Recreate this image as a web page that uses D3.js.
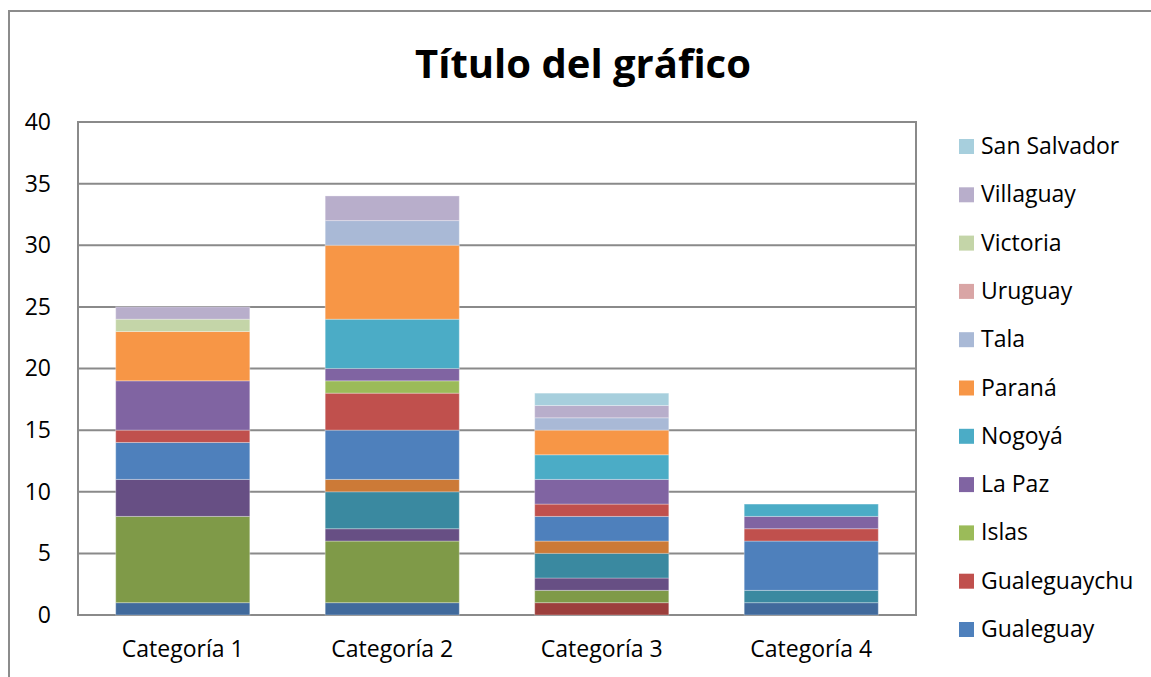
<!DOCTYPE html>
<html>
<head>
<meta charset="utf-8">
<title>Título del gráfico</title>
<script src="https://d3js.org/d3.v7.min.js"></script>
<style>
  body { margin: 0; background: #fff; }
  svg { font-family: "Open Sans", sans-serif; }
</style>
</head>
<body>
<svg id="chart" width="1151" height="677"></svg>
<script>
// datos
const categorias = ["Categoría 1", "Categoría 2", "Categoría 3", "Categoría 4"];
const series = ["Colón", "Concordia", "Diamante", "Federación", "Federal", "Feliciano",
  "Gualeguay", "Gualeguaychu", "Islas", "La Paz", "Nogoyá", "Paraná",
  "Tala", "Uruguay", "Victoria", "Villaguay", "San Salvador"];
// valores por serie, en orden de categorías
const colon        = [1, 1, 0, 1];
const concordia    = [0, 0, 1, 0];
const diamante     = [7, 5, 1, 0];
const federacion   = [3, 1, 1, 0];
const federal      = [0, 3, 2, 1];
const feliciano    = [0, 1, 1, 0];
const gualeguay    = [3, 4, 2, 4];
const gualeguaychu = [1, 3, 1, 1];
const islas        = [0, 1, 0, 0];
const lapaz        = [4, 1, 2, 1];
const nogoya       = [0, 4, 2, 1];
const parana       = [4, 6, 2, 0];
const tala         = [0, 2, 1, 0];
const uruguay      = [0, 0, 0, 0];
const victoria     = [1, 0, 0, 0];
const villaguay    = [1, 2, 1, 0];
const sanSalvador  = [0, 0, 1, 0];
const valores = [colon, concordia, diamante, federacion, federal, feliciano,
  gualeguay, gualeguaychu, islas, lapaz, nogoya, parana,
  tala, uruguay, victoria, villaguay, sanSalvador];
const yTicks = [0, 5, 10, 15, 20, 25, 30, 35, 40];
// leyenda visible (Excel la recorta)
const enLeyenda = ["San Salvador", "Villaguay", "Victoria", "Uruguay", "Tala", "Paraná",
  "Nogoyá", "La Paz", "Islas", "Gualeguaychu", "Gualeguay"];

const colores = ["#416a9c", "#9c3f3c", "#7f9a48", "#674f84", "#3a89a0", "#cc7a37",
  "#4e80bc", "#c0504d", "#9bbb59", "#8064a2", "#4bacc6", "#f79646",
  "#a9b9d6", "#d9a5a5", "#c4d5a8", "#b8aecb", "#a7cfdd"];

const svg = d3.select("#chart");
const m = { left: 78, right: 235, top: 122, bottom: 62 };
const W = 1151, H = 677;

// tabla para el stack
const filas = categorias.map(function (c, i) {
  let o = { cat: c };
  series.forEach(function (s, j) { o[s] = valores[j][i]; });
  return o;
});
const stack = d3.stack().keys(series)(filas);

const x = d3.scaleBand().domain(categorias).range([m.left, W - m.right]).paddingInner(0.36).paddingOuter(0.18);
const y = d3.scaleLinear().domain([0, 40]).range([H - m.bottom, m.top]);
const color = d3.scaleOrdinal().domain(series).range(colores);

// borde del área del gráfico
svg.append("rect")
  .attr("x", 9).attr("y", 11)
  .attr("width", W + 20).attr("height", H + 20)
  .attr("fill", "none").attr("stroke", "#8c8c8c").attr("stroke-width", 2);

// título
svg.append("text")
  .attr("x", 583).attr("y", 78)
  .attr("text-anchor", "middle")
  .attr("font-size", 40).attr("font-weight", "bold")
  .text("Título del gráfico");

// grilla
svg.append("g")
  .selectAll("line")
  .data(yTicks)
  .enter().append("line")
  .attr("x1", m.left).attr("x2", W - m.right)
  .attr("y1", function (d) { return y(d); })
  .attr("y2", function (d) { return y(d); })
  .attr("stroke", "#8a8a8a").attr("stroke-width", 2);

// borde del área de trazado
svg.append("rect")
  .attr("x", m.left).attr("y", m.top)
  .attr("width", W - m.right - m.left).attr("height", H - m.bottom - m.top)
  .attr("fill", "none").attr("stroke", "#8a8a8a").attr("stroke-width", 2);

// barras apiladas
svg.append("g")
  .selectAll("g")
  .data(stack)
  .enter().append("g")
  .attr("fill", function (d) { return color(d.key); })
  .selectAll("rect")
  .data(function (d) { return d.filter(function (p) { return p[1] > p[0]; }); })
  .enter().append("rect")
  .attr("x", function (d) { return x(d.data.cat); })
  .attr("width", x.bandwidth())
  .attr("y", function (d) { return y(d[1]); })
  .attr("height", function (d) { return y(d[0]) - y(d[1]); })
  .attr("stroke", "rgba(255,255,255,0.3)").attr("stroke-width", 1);

// eje y
const ejeY = svg.append("g")
  .attr("transform", "translate(" + (m.left - 27) + ",0)")
  .call(d3.axisLeft(y).tickValues(yTicks).tickSize(0).tickPadding(0));
ejeY.select(".domain").remove();
ejeY.selectAll("text").attr("font-size", 23).attr("font-family", "Open Sans").attr("fill", "#000");

// eje x
const ejeX = svg.append("g")
  .attr("transform", "translate(0," + (H - m.bottom) + ")")
  .call(d3.axisBottom(x).tickSize(0).tickPadding(26));
ejeX.select(".domain").remove();
ejeX.selectAll("text").attr("font-size", 23).attr("font-family", "Open Sans").attr("fill", "#000");

// leyenda
const ley = svg.append("g")
  .selectAll("g")
  .data(enLeyenda)
  .enter().append("g")
  .attr("transform", function (d, i) { return "translate(959," + (146 + i * 48.3) + ")"; });
ley.append("rect")
  .attr("x", 0).attr("y", -7).attr("width", 15).attr("height", 15)
  .attr("fill", function (d) { return color(d); });
ley.append("text")
  .attr("x", 22).attr("y", 0).attr("dy", "0.35em")
  .attr("font-size", 23)
  .text(function (d) { return d; });
</script>
</body>
</html>
